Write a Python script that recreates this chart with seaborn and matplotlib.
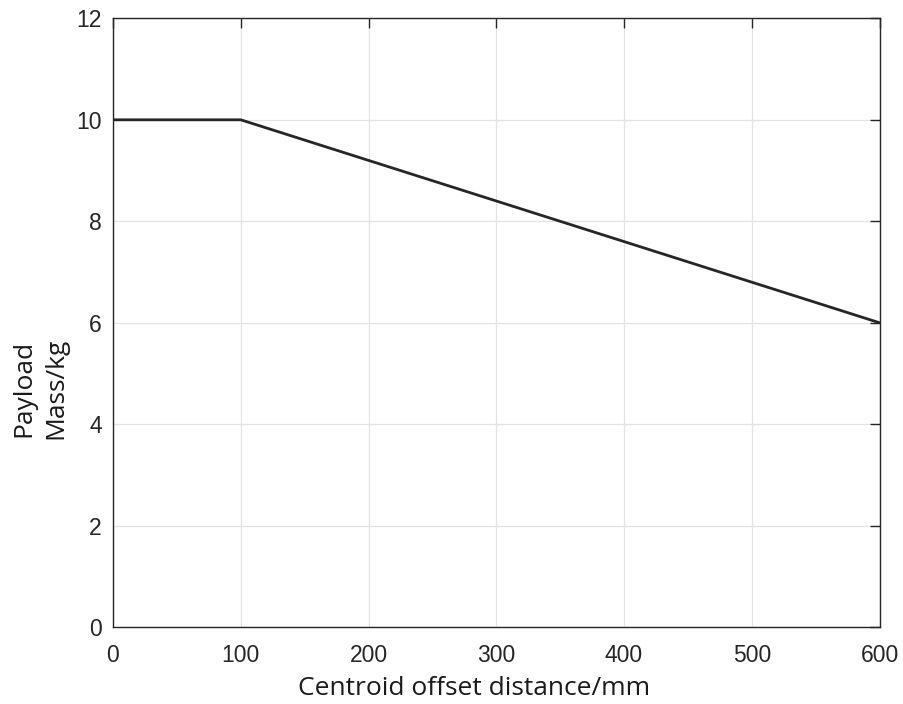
import numpy as np
import pandas as pd
import matplotlib
matplotlib.use("Agg")
import matplotlib.pyplot as plt
import seaborn as sns

# данные: смещение центра масс (мм) и допустимая масса груза (кг)
offset_mm = [0, 100, 600]
payload_kg = [10, 10, 6]
x_ticks = [0, 100, 200, 300, 400, 500, 600]
y_ticks = [0, 2, 4, 6, 8, 10, 12]

df = pd.DataFrame({"offset": offset_mm, "payload": payload_kg})

sns.set_style("white")
plt.rcParams['font.family'] = ['Liberation Sans', 'DejaVu Sans']

fig = plt.figure(figsize=(9.04, 7.04), dpi=100)
ax = fig.add_axes([0.125, 0.109, 0.848, 0.865])

sns.lineplot(data=df, x="offset", y="payload", color="#262626", linewidth=2, ax=ax)

ax.set_xlim(0, 600)
ax.set_ylim(0, 12)
ax.set_xticks(x_ticks)
ax.set_yticks(y_ticks)
ax.grid(True, color="#e3e3e3", linewidth=0.9)
ax.set_axisbelow(True)
for s in ax.spines.values():
    s.set_color("#262626")
    s.set_linewidth(1.0)
ax.tick_params(direction="in", length=7, width=1, colors="#262626",
               labelsize=16.5, top=True, right=True)
ax.tick_params(axis="x", pad=12)
ax.tick_params(axis="y", pad=8)

lab_font = {"family": ["Open Sans", "DejaVu Sans"], "size": 19, "color": "#1a1a1a"}
ax.set_xlabel("Centroid offset distance/mm", fontdict=lab_font)
ax.set_ylabel("Payload\nMass/kg", fontdict=lab_font, linespacing=1.4)
# подписи осей сдвинуты как в оригинале
ax.xaxis.set_label_coords(0.471, -0.080)
ax.yaxis.set_label_coords(-0.058, 0.392)

fig.savefig("out.png", dpi=100)
